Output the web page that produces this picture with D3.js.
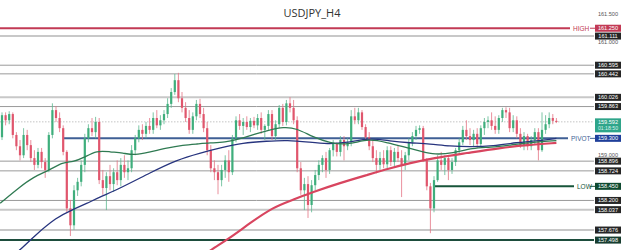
<!DOCTYPE html>
<html>
<head>
<meta charset="utf-8">
<script src="https://cdn.jsdelivr.net/npm/d3@7"></script>
<style>
  body { margin: 0; background: #fff; }
  svg { display: block; font-family: "Liberation Sans", Arial, sans-serif; }
</style>
</head>
<body>
<div id="chart"></div>
<script>
var title = "USDJPY_H4";

// [open, high, low, close] per H4 bar
var candles = [
  [159.32,159.76,159.27,159.71],[159.71,159.76,159.53,159.62],[159.62,159.78,159.55,159.73],[159.73,159.76,159.30,159.36],
  [159.36,159.41,159.09,159.16],[159.16,159.27,158.91,159.00],[159.00,159.48,158.95,159.36],[159.36,159.45,159.09,159.18],
  [159.18,159.27,158.88,158.95],[158.95,159.09,158.74,158.83],[158.83,159.13,158.77,159.06],[159.06,159.13,158.77,158.88],
  [158.88,158.95,158.60,158.74],[158.74,159.41,158.70,159.36],[159.36,159.92,159.30,159.80],[159.80,159.87,159.59,159.66],
  [159.66,159.76,159.41,159.48],[159.48,159.53,159.00,159.06],[159.06,159.09,157.99,158.06],[158.06,158.21,157.57,157.76],
  [157.76,158.47,157.68,158.38],[158.38,158.60,158.28,158.53],[158.53,158.91,158.45,158.83],[158.83,159.38,158.70,159.30],
  [159.30,159.55,159.23,159.48],[159.48,159.66,159.34,159.41],[159.41,159.68,159.30,159.59],[159.59,159.66,158.49,158.56],
  [158.56,158.74,158.30,158.42],[158.42,158.70,158.03,158.63],[158.63,158.83,158.38,158.49],[158.49,158.77,158.35,158.70],
  [158.70,158.91,158.47,158.56],[158.56,158.95,158.45,158.83],[158.83,159.00,158.60,158.70],[158.70,158.91,158.56,158.77],
  [158.77,159.18,158.70,159.09],[159.09,159.36,159.00,159.30],[159.30,159.53,159.23,159.45],[159.45,159.55,159.27,159.38],
  [159.38,159.59,159.30,159.52],[159.52,159.66,159.38,159.45],[159.45,159.76,159.38,159.66],[159.66,159.80,159.48,159.53],
  [159.53,159.71,159.45,159.62],[159.62,159.80,159.55,159.73],[159.73,160.01,159.66,159.91],[159.91,160.19,159.84,160.12],
  [160.12,160.44,160.07,160.33],[160.33,160.46,159.94,160.01],[160.01,160.12,159.76,159.84],[159.84,159.94,159.59,159.66],
  [159.66,159.80,159.38,159.45],[159.45,159.76,159.38,159.69],[159.69,159.98,159.62,159.91],[159.91,160.00,159.66,159.73],
  [159.73,159.84,159.41,159.48],[159.48,159.59,159.00,159.09],[159.09,159.18,158.70,158.77],[158.77,158.91,158.56,158.70],
  [158.70,158.83,158.31,158.56],[158.56,158.83,158.45,158.74],[158.74,159.00,158.60,158.91],[158.91,159.09,158.53,158.70],
  [158.70,159.36,158.65,159.30],[159.30,159.69,159.23,159.62],[159.62,159.73,159.45,159.52],[159.52,159.66,159.36,159.59],
  [159.59,159.69,159.45,159.50],[159.50,159.66,159.41,159.61],[159.61,159.68,159.48,159.53],[159.53,159.73,159.45,159.66],
  [159.66,159.76,159.38,159.45],[159.45,159.55,159.27,159.52],[159.52,159.80,159.45,159.73],[159.73,159.80,159.27,159.34],
  [159.34,159.62,159.27,159.55],[159.55,159.89,159.48,159.84],[159.84,159.91,159.52,159.59],[159.59,159.98,159.53,159.92],
  [159.92,160.03,159.76,159.84],[159.84,159.98,159.55,159.62],[159.62,159.69,158.70,158.77],[158.77,158.88,158.30,158.38],
  [158.38,158.60,158.03,158.49],[158.49,158.63,157.89,158.12],[158.12,158.56,157.99,158.47],[158.47,158.74,158.38,158.65],
  [158.65,158.91,158.56,158.83],[158.83,159.00,158.70,158.95],[158.95,159.06,158.60,158.74],[158.74,159.13,158.67,159.09],
  [159.09,159.27,158.98,159.20],[159.20,159.23,158.98,159.06],[159.06,159.34,158.98,159.27],[159.27,159.34,158.91,159.16],
  [159.16,159.30,159.09,159.23],[159.23,159.80,159.16,159.69],[159.69,159.84,159.55,159.62],[159.62,159.84,159.55,159.76],
  [159.76,159.80,159.45,159.50],[159.50,159.55,159.27,159.32],[159.32,159.41,159.09,159.16],[159.16,159.27,158.88,158.95],
  [158.95,159.09,158.68,158.83],[158.83,159.06,158.74,158.95],[158.95,159.09,158.77,158.84],[158.84,159.16,158.77,159.09],
  [159.09,159.16,158.81,158.88],[158.88,159.13,158.81,159.06],[159.06,159.18,158.88,158.95],[158.95,159.09,158.26,158.83],
  [158.83,159.06,158.74,159.00],[159.00,159.30,158.91,159.23],[159.23,159.41,159.16,159.34],[159.34,159.52,159.27,159.45],
  [159.45,159.53,159.38,159.48],[159.48,159.52,158.88,158.91],[158.91,158.95,158.38,158.45],[158.45,158.51,157.62,158.06],
  [158.06,158.63,157.99,158.56],[158.56,159.00,158.53,158.91],[158.91,159.06,158.74,158.83],[158.83,159.00,158.65,158.95],
  [158.95,159.00,158.56,158.74],[158.74,158.95,158.67,158.88],[158.88,159.13,158.81,159.09],[159.09,159.30,159.02,159.23],
  [159.23,159.52,159.18,159.45],[159.45,159.62,159.27,159.34],[159.34,159.48,159.18,159.27],[159.27,159.45,159.16,159.38],
  [159.38,159.48,159.13,159.20],[159.20,159.53,159.16,159.48],[159.48,159.66,159.36,159.59],[159.59,159.69,159.48,159.62],
  [159.62,159.76,159.45,159.52],[159.52,159.69,159.38,159.45],[159.45,159.71,159.38,159.66],[159.66,159.84,159.59,159.80],
  [159.80,159.85,159.66,159.76],[159.76,159.84,159.41,159.48],[159.48,159.71,159.41,159.62],[159.62,159.69,159.30,159.38],
  [159.38,159.48,159.13,159.18],[159.18,159.41,159.09,159.34],[159.34,159.38,159.09,159.16],[159.16,159.34,159.09,159.27],
  [159.27,159.48,159.20,159.41],[159.41,159.48,158.91,159.09],[159.09,159.76,159.06,159.45],[159.45,159.71,159.38,159.55],
  [159.55,159.76,159.48,159.66],[159.66,159.73,159.55,159.61],[159.61,159.66,159.57,159.59]
];

// moving averages, [bar index, price]
var maFast = [[-0.5,158.15],[5,158.44],[8.6,158.61],[13.3,158.74],[16.9,158.88],[19.7,158.88],[22.5,158.95],[26.4,159.09],
  [30,159.06],[33.6,159.04],[36.9,159.00],[41.1,159.06],[45.8,159.13],[50.3,159.18],[54.2,159.20],[57.8,159.22],[61.9,159.23],
  [66.1,159.29],[70.3,159.38],[74.4,159.45],[78.1,159.50],[81.9,159.48],[86.4,159.32],[91.1,159.22],[95.8,159.18],[102.2,159.30],
  [106.9,159.22],[113.3,159.13],[119.7,159.00],[125.3,159.04],[130.8,159.13],[135.6,159.14],[141.1,159.18],[145.8,159.22],[154,159.26]];
var maMid = [[2.2,157.18],[5,157.32],[8.6,157.55],[15.3,157.91],[19.4,158.03],[23.6,158.15],[27.2,158.26],[33.6,158.44],
  [41.1,158.69],[48.6,158.92],[55,159.04],[60.6,159.13],[66.9,159.22],[73.6,159.25],[79.2,159.27],[85.6,159.23],[90.3,159.20],
  [95.8,159.22],[102.2,159.31],[107.8,159.25],[113.3,159.22],[118.9,159.20],[124.4,159.16],[130,159.15],[136.4,159.16],
  [143.1,159.23],[148.1,159.25],[154,159.30]];
var maSlow = [[56.4,157.23],[57.8,157.32],[62.5,157.50],[68.9,157.80],[75.3,158.08],[80.8,158.21],[86.4,158.35],[93.9,158.51],
  [101.4,158.65],[107.8,158.77],[113.3,158.86],[119.7,158.95],[129.2,159.04],[138.3,159.13],[145.8,159.18],[154,159.22]];

var levels = [161.111, 160.595, 160.442, 160.026, 159.863, 158.896, 158.724, 158.200, 158.037, 157.676];
var softLevels = [161.111, 160.026, 158.037, 157.676];
var plainTicks = [161.5, 161.0, 159.0];
var highLevel = 161.250, pivotLevel = 159.300, lowLevel = 158.450, bottomLevel = 157.498;
var lastPrice = 159.592, countdown = "01:18:50";
var pivotFrom = 17, lowFrom = 120;   // bar where the pivot / low lines start

var width = 625, height = 250;
var lineEnd = 594, boxX = 595, boxW = 26, boxH = 7;

var svg = d3.select("#chart").append("svg")
  .attr("width", width)
  .attr("height", height);

var x = d3.scaleLinear().domain([0, candles.length - 1]).range([2, 556.4]);
var y = d3.scaleLinear().domain([161.75, 157.3225]).range([0, height]);

var fmt = d3.format(".3f");

svg.append("text")
  .attr("x", 312).attr("y", 17)
  .attr("text-anchor", "middle")
  .style("font-family", "'Open Sans', sans-serif")
  .style("font-size", "11px")
  .style("fill", "#333")
  .text(title);

// level lines
svg.selectAll(".level")
  .data(levels)
  .enter()
  .append("line")
  .attr("x1", 0).attr("x2", lineEnd)
  .attr("y1", function(d){ return y(d); })
  .attr("y2", function(d){ return y(d); })
  .style("stroke", function(d){ return softLevels.indexOf(d) >= 0 ? "#c8c8c8" : "#9a9a9a"; })
  .style("stroke-width", function(d){ return softLevels.indexOf(d) >= 0 ? 2 : 1; });

svg.append("line")
  .attr("x1", 0).attr("x2", lineEnd)
  .attr("y1", y(lastPrice)).attr("y2", y(lastPrice))
  .style("stroke", "#c4c4c4").style("stroke-dasharray", "1.5,1.5").style("stroke-width", 1);

svg.append("line")
  .attr("x1", 0).attr("x2", lineEnd)
  .attr("y1", y(bottomLevel)).attr("y2", y(bottomLevel))
  .style("stroke", "#1d4d3c").style("stroke-width", 2);

svg.append("line")
  .attr("x1", 0).attr("x2", 570)
  .attr("y1", y(highLevel)).attr("y2", y(highLevel))
  .style("stroke", "#c23a55").style("stroke-width", 2);

svg.append("line")
  .attr("x1", x(pivotFrom)).attr("x2", 568)
  .attr("y1", y(pivotLevel)).attr("y2", y(pivotLevel))
  .style("stroke", "#3f5f95").style("stroke-width", 2);

svg.append("line")
  .attr("x1", x(lowFrom)).attr("x2", 574)
  .attr("y1", y(lowLevel)).attr("y2", y(lowLevel))
  .style("stroke", "#17553a").style("stroke-width", 2);

// candles
var grp = svg.append("g");
grp.selectAll(".wick")
  .data(candles)
  .enter()
  .append("line")
  .attr("x1", function(d, i){ return x(i); })
  .attr("x2", function(d, i){ return x(i); })
  .attr("y1", function(d){ return y(d[1]); })
  .attr("y2", function(d){ return y(d[2]); })
  .style("stroke", function(d){ return d[3] >= d[0] ? "#5cb88f" : "#e37384"; })
  .style("stroke-width", 0.8);

grp.selectAll(".body")
  .data(candles)
  .enter()
  .append("rect")
  .attr("x", function(d, i){ return x(i) - 1.1; })
  .attr("width", 2.2)
  .attr("y", function(d){ return y(Math.max(d[0], d[3])); })
  .attr("height", function(d){ return Math.max(0.8, Math.abs(y(d[0]) - y(d[3]))); })
  .attr("fill", function(d){ return d[3] >= d[0] ? "#3fae7c" : "#e0566d"; });

// moving averages
var maLine = d3.line()
  .x(function(d){ return x(d[0]); })
  .y(function(d){ return y(d[1]); })
  .curve(d3.curveBasis);

svg.append("path").datum(maSlow).attr("d", maLine)
  .style("fill", "none").style("stroke", "#d8455f").style("stroke-width", 2.2);
svg.append("path").datum(maMid).attr("d", maLine)
  .style("fill", "none").style("stroke", "#27347e").style("stroke-width", 1.3);
svg.append("path").datum(maFast).attr("d", maLine)
  .style("fill", "none").style("stroke", "#2f7a52").style("stroke-width", 1.3);

// right labels
svg.selectAll(".plain")
  .data(plainTicks)
  .enter()
  .append("text")
  .attr("x", boxX + boxW / 2)
  .attr("y", function(d){ return y(d) + 2; })
  .attr("text-anchor", "middle")
  .style("font-size", "5.6px")
  .style("fill", "#555")
  .text(fmt);

function tag(price, fill) {
  var g = svg.append("g").attr("transform", "translate(" + boxX + "," + (y(price) - boxH / 2) + ")");
  g.append("rect").attr("width", boxW).attr("height", boxH).attr("fill", fill);
  g.append("text").attr("x", boxW / 2).attr("y", boxH - 1.6)
    .attr("text-anchor", "middle")
    .style("font-size", "5.6px").style("fill", "#fff")
    .text(fmt(price));
  return g;
}

levels.forEach(function(d){ tag(d, "#262626"); });
tag(highLevel, "#c23a55");
tag(pivotLevel, "#1f3f9a");
tag(lowLevel, "#0f4a30");
tag(bottomLevel, "#173d30");

var cur = svg.append("g").attr("transform", "translate(" + boxX + "," + (y(lastPrice) - 3.5) + ")");
cur.append("rect").attr("width", boxW).attr("height", 14).attr("fill", "#2fa58a");
cur.append("text").attr("x", boxW / 2).attr("y", 5.4).attr("text-anchor", "middle")
  .style("font-size", "5.6px").style("fill", "#fff").text(fmt(lastPrice));
cur.append("text").attr("x", boxW / 2).attr("y", 11.8).attr("text-anchor", "middle")
  .style("font-size", "5.2px").style("fill", "#d8f3ea").text(countdown);

// HIGH / PIVOT / LOW names
var names = [["HIGH", highLevel, "#c23a55", 573], ["PIVOT", pivotLevel, "#3f5f95", 571], ["LOW", lowLevel, "#17553a", 577]];
names.forEach(function(n){
  svg.append("text")
    .attr("x", n[3]).attr("y", y(n[1]) + 2.3)
    .style("font-size", "6.5px").style("fill", n[2])
    .text(n[0]);
  svg.append("line")
    .attr("x1", 590).attr("x2", boxX)
    .attr("y1", y(n[1])).attr("y2", y(n[1]))
    .style("stroke", n[2]).style("stroke-width", 1);
});
</script>
</body>
</html>
